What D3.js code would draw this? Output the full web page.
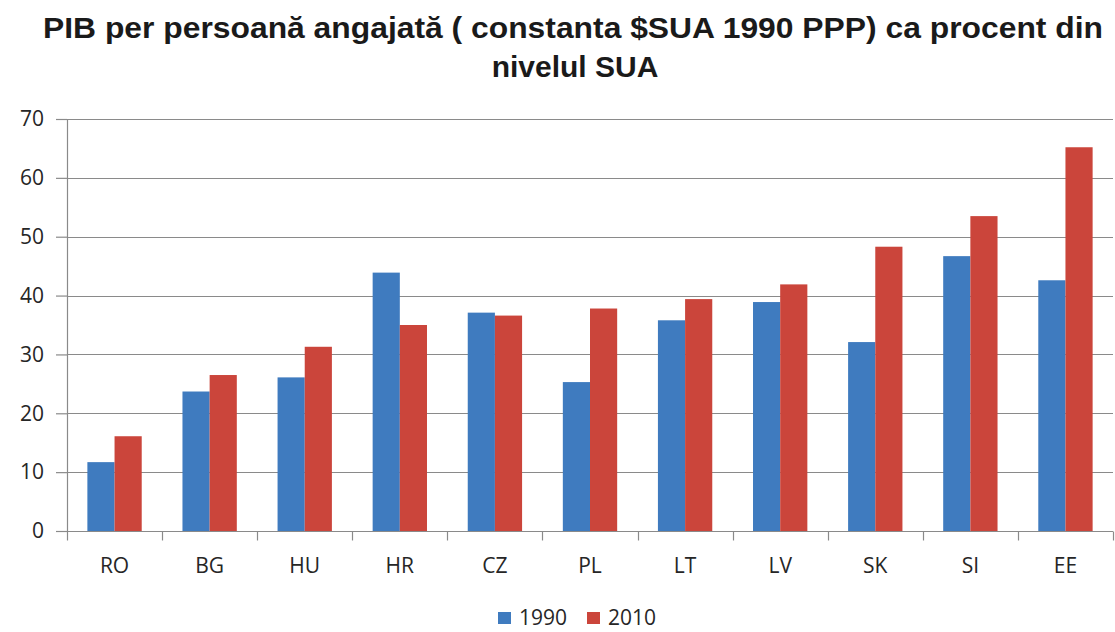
<!DOCTYPE html>
<html>
<head>
<meta charset="utf-8">
<script src="https://cdn.jsdelivr.net/npm/d3@7"></script>
<style>
  body { margin: 0; background: #fff; }
  text { font-family: "Open Sans", sans-serif; }
</style>
</head>
<body>
<script>
let width = 1115, height = 632;

// data
let countries = ["RO", "BG", "HU", "HR", "CZ", "PL", "LT", "LV", "SK", "SI", "EE"];
let years = ["1990", "2010"];
let values1990 = [11.7, 23.7, 26.1, 43.9, 37.1, 25.3, 35.8, 38.9, 32.1, 46.7, 42.6];
let values2010 = [16.1, 26.5, 31.3, 35.0, 36.6, 37.8, 39.4, 41.9, 48.3, 53.5, 65.2];
let yTicks = [0, 10, 20, 30, 40, 50, 60, 70];
let colors = ["#3f7bbf", "#cb453b"];

let margin = {top: 119, right: 2, bottom: 101, left: 67};

let svg = d3.select("body").append("svg")
    .attr("width", width)
    .attr("height", height);

// title
svg.append("text")
    .attr("x", 573).attr("y", 38)
    .attr("text-anchor", "middle")
    .attr("textLength", 1060)
    .attr("lengthAdjust", "spacingAndGlyphs")
    .style("font-family", "'Liberation Sans', Arial, sans-serif")
    .style("font-weight", "bold")
    .style("font-size", "30px")
    .attr("fill", "#1a1a1a")
    .text("PIB per persoană angajată ( constanta $SUA 1990 PPP) ca procent din");

svg.append("text")
    .attr("x", 575).attr("y", 77)
    .attr("text-anchor", "middle")
    .style("font-family", "'Liberation Sans', Arial, sans-serif")
    .style("font-weight", "bold")
    .style("font-size", "30px")
    .attr("fill", "#1a1a1a")
    .text("nivelul SUA");

let x0 = d3.scaleBand()
    .domain(countries)
    .range([margin.left, width - margin.right])
    .padding(0);

let x1 = d3.scaleBand()
    .domain(years)
    .range([0, x0.bandwidth()])
    .paddingInner(0)
    .paddingOuter(0.75);

let y = d3.scaleLinear()
    .domain([0, 70])
    .range([height - margin.bottom, margin.top]);

// gridlines
svg.append("g")
  .selectAll("line")
    .data(yTicks.slice(1))
  .enter().append("line")
    .attr("x1", margin.left)
    .attr("x2", width - margin.right)
    .attr("y1", d => Math.round(y(d)) + 0.5)
    .attr("y2", d => Math.round(y(d)) + 0.5)
    .attr("stroke", "#8a8a8a")
    .attr("stroke-width", 1.2);

// bars
let rows = countries.map((c, i) => ({country: c, vals: [values1990[i], values2010[i]]}));

svg.append("g")
  .selectAll("g")
    .data(rows)
  .enter().append("g")
    .attr("transform", d => "translate(" + x0(d.country) + ",0)")
  .selectAll("rect")
    .data(d => d.vals.map((v, j) => ({year: years[j], value: v, j: j})))
  .enter().append("rect")
    .attr("x", d => x1(d.year))
    .attr("width", x1.bandwidth())
    .attr("y", d => y(d.value))
    .attr("height", d => y(0) - y(d.value))
    .attr("fill", d => colors[d.j]);

// y axis
let yAxis = svg.append("g")
    .attr("transform", "translate(" + margin.left + ",0)")
    .call(d3.axisLeft(y).tickValues(yTicks).tickSize(11).tickPadding(12).tickSizeOuter(0));
yAxis.select(".domain").attr("stroke", "#8a8a8a").attr("stroke-width", 1.2);
yAxis.selectAll(".tick line").attr("stroke", "#8a8a8a").attr("stroke-width", 1.2);
yAxis.selectAll("text")
    .style("font-family", "'Open Sans', sans-serif")
    .style("font-size", "21px")
    .attr("fill", "#262626");

// x axis: labels centred, ticks on category boundaries
let xAxis = svg.append("g")
    .attr("transform", "translate(0," + y(0) + ")")
    .call(d3.axisBottom(x0).tickSize(0).tickPadding(27).tickSizeOuter(0));
xAxis.select(".domain").remove();
xAxis.selectAll("text")
    .style("font-family", "'Open Sans', sans-serif")
    .style("font-size", "21px")
    .attr("fill", "#262626");

let base = Math.round(y(0)) + 0.5;
svg.append("line")
    .attr("x1", margin.left - 11)
    .attr("x2", width - margin.right)
    .attr("y1", base).attr("y2", base)
    .attr("stroke", "#8a8a8a")
    .attr("stroke-width", 1.2);

let bounds = countries.map(c => x0(c)).concat([x0.range()[1]]);
svg.append("g")
  .selectAll("line")
    .data(bounds)
  .enter().append("line")
    .attr("x1", d => Math.round(d) + 0.5)
    .attr("x2", d => Math.round(d) + 0.5)
    .attr("y1", base)
    .attr("y2", base + 9)
    .attr("stroke", "#8a8a8a")
    .attr("stroke-width", 1.2);

// legend
let legend = svg.append("g")
    .attr("transform", "translate(498,625)");

let item = legend.selectAll("g")
    .data(years)
  .enter().append("g")
    .attr("transform", (d, i) => "translate(" + (i * 89) + ",0)");

item.append("rect")
    .attr("x", 0).attr("y", -13)
    .attr("width", 13).attr("height", 12)
    .attr("fill", (d, i) => colors[i]);

item.append("text")
    .attr("x", 21).attr("y", 0)
    .style("font-size", "21px")
    .attr("fill", "#262626")
    .text(d => d);
</script>
</body>
</html>
